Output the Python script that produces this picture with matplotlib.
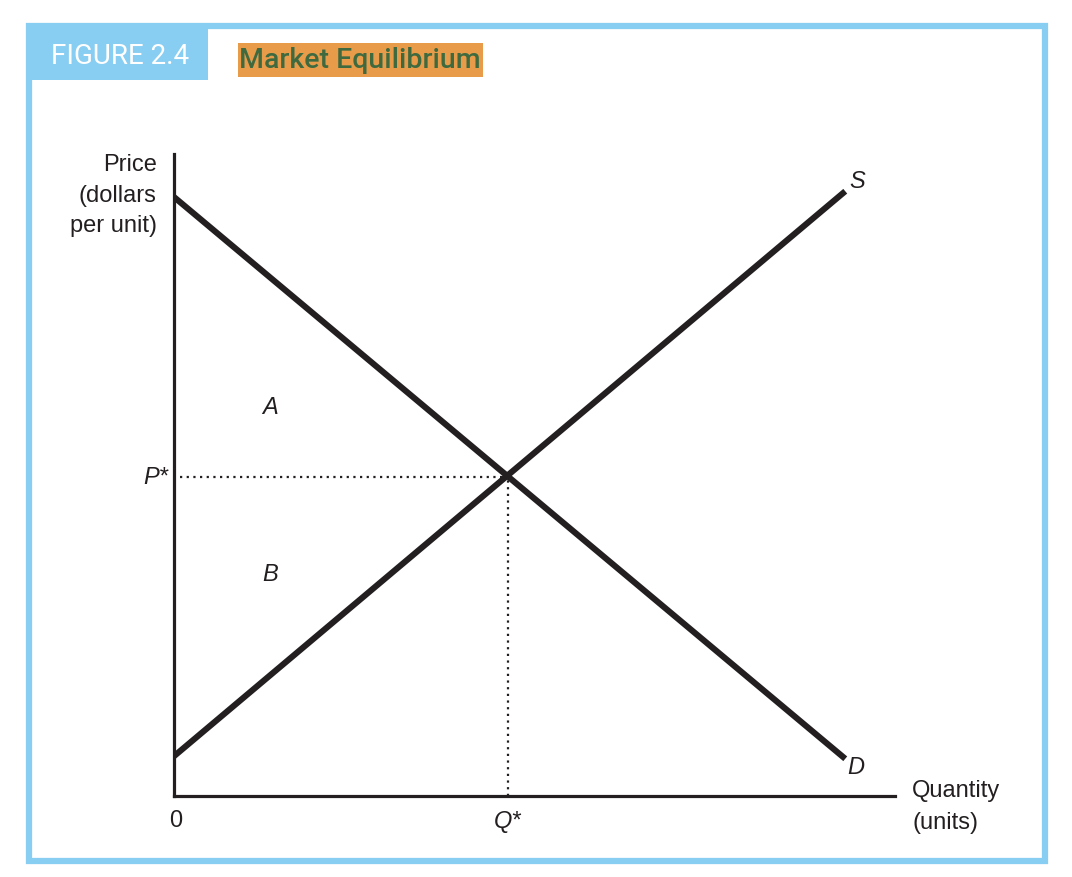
import matplotlib

matplotlib.use("Agg")
import matplotlib.pyplot as plt
from matplotlib.patches import Rectangle

plt.rcParams["font.family"] = ["Liberation Sans", "DejaVu Sans"]

# data (quantity / price in arbitrary units, axes run 0..10)
demand_q = [0.0, 9.31]
demand_p = [9.33, 0.58]
supply_q = [0.0, 9.31]
supply_p = [0.62, 9.42]
eq_q = 4.63
eq_p = 4.97

INK = "#231f20"
BLUE = "#88cdf2"
ORANGE = "#e89c4a"
GREEN = "#3f6a40"

fig = plt.figure(figsize=(10.72, 8.78), dpi=100)
W, H = 1072, 878


# figure pixels -> figure fraction
def fx(px):
    return px / W


def fy(py):
    return 1 - py / H


# frame and header boxes
fig.patches.append(Rectangle((fx(29), fy(862)), fx(1045) - fx(29), fy(27) - fy(862),
                             transform=fig.transFigure, fill=False, edgecolor=BLUE, linewidth=4.5))
fig.patches.append(Rectangle((fx(29), fy(81)), fx(208) - fx(29), fy(27) - fy(81),
                             transform=fig.transFigure, facecolor=BLUE, edgecolor="none"))
fig.patches.append(Rectangle((fx(238), fy(78)), fx(483) - fx(238), fy(44) - fy(78),
                             transform=fig.transFigure, facecolor=ORANGE, edgecolor="none"))
fig.text(fx(120), fy(57), "FIGURE 2.4", color="white", fontsize=20, ha="center", va="center",
         family=["Roboto", "DejaVu Sans"])
fig.text(fx(360), fy(60), "Market Equilibrium", color=GREEN, fontsize=20.5, ha="center",
         va="center", family=["Roboto", "DejaVu Sans"], fontweight="medium")

ax = fig.add_axes([fx(174), fy(797), fx(895) - fx(174), fy(155) - fy(797)])
ax.set_xlim(0, 10)
ax.set_ylim(0, 10)
for s in ["top", "right"]:
    ax.spines[s].set_visible(False)
for s in ["left", "bottom"]:
    ax.spines[s].set_linewidth(2.3)
    ax.spines[s].set_color(INK)
ax.set_xticks([])
ax.set_yticks([])
ax.patch.set_alpha(0)

ax.plot(demand_q, demand_p, color=INK, linewidth=4.4, solid_capstyle="butt")
ax.plot(supply_q, supply_p, color=INK, linewidth=4.4, solid_capstyle="butt")
ax.plot([0.08, eq_q], [eq_p, eq_p], color=INK, linewidth=1.6, linestyle=(0, (1, 2)))
ax.plot([eq_q, eq_q], [0, eq_p], color=INK, linewidth=1.6, linestyle=(0, (1, 2)))

fs = 17
ax.text(-0.24, 10.02, "Price\n(dollars\nper unit)", ha="right", va="top", fontsize=fs,
        linespacing=1.52, color=INK)
ax.text(10.24, -0.15, "Quantity\n(units)", ha="left", va="center", fontsize=fs,
        linespacing=1.6, color=INK)
ax.text(-0.08, eq_p, "P*", ha="right", va="center", fontsize=fs, style="italic", color=INK)
ax.text(eq_q, -0.2, "Q*", ha="center", va="top", fontsize=fs, style="italic", color=INK)
ax.text(0.03, -0.2, "0", ha="center", va="top", fontsize=fs, color=INK)
ax.text(1.33, 6.07, "A", ha="center", va="center", fontsize=fs, style="italic", color=INK)
ax.text(1.33, 3.46, "B", ha="center", va="center", fontsize=fs, style="italic", color=INK)
ax.text(supply_q[1] + 0.17, supply_p[1] + 0.17, "S", ha="center", va="center", fontsize=fs,
        style="italic", color=INK)
ax.text(demand_q[1] + 0.14, demand_p[1] - 0.12, "D", ha="center", va="center", fontsize=fs,
        style="italic", color=INK)

fig.savefig("out.png", dpi=100)
